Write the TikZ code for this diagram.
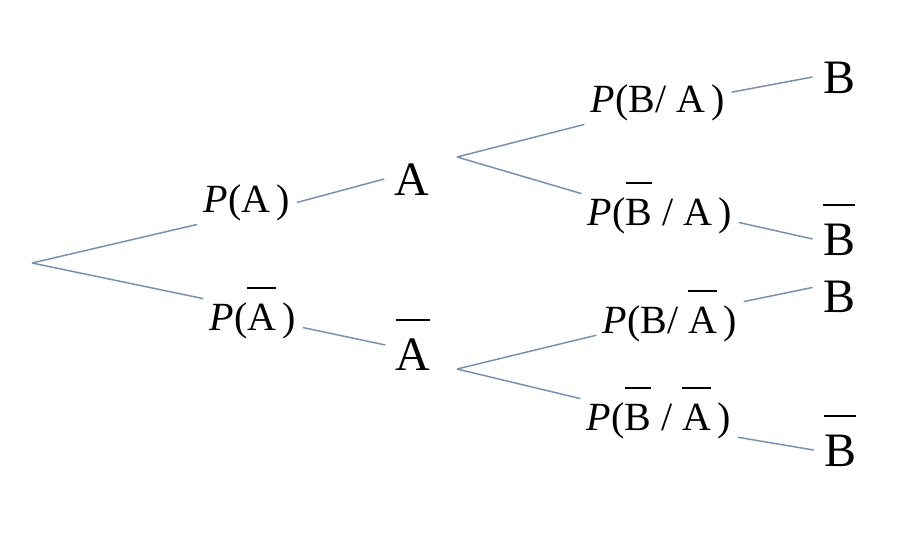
\documentclass[tikz,border=0pt]{standalone}
\usepackage{fontspec}
\setmainfont{Liberation Serif}
\usetikzlibrary{positioning}
\usepackage{xcolor}
\definecolor{branchcol}{RGB}{120,145,175}
\newcommand{\compl}[1]{\leavevmode\vbox{\hrule height 1.1pt\kern0.36em\hbox{#1}}}
\newcommand{\probtext}[1]{\textit{P}(#1\,)}
\tikzset{
  problabel/.style={font=\fontsize{20}{22}\selectfont,text height=14pt,text depth=4.5pt,inner xsep=3pt,inner ysep=1.5pt,anchor=base},
  event/.style={font=\fontsize{24}{28}\selectfont,text height=16pt,text depth=0pt,inner sep=5pt,anchor=base},
  branch/.style={draw=branchcol,line width=0.75pt}
}

\begin{document}
\begin{tikzpicture}[x=0.5pt,y=-0.5pt]
\useasboundingbox (0,0) rectangle (908,537);
%% tree of two events
\coordinate (root) at (32,263);
\coordinate (splitA) at (457,157);
\coordinate (splitAbar) at (457,369);
%the nodes
\node [problabel] (pA) at (247,212) {\probtext{A}};
\node [problabel] (pAbar) at (253,330) {\probtext{\compl{A}}};
\node [event] (A) at (412,195) {A};
\node [event] (Abar) at (413,370) {\compl{A}};
\node [problabel] (pBA) at (658,112) {\probtext{B/ A}};
\node [problabel] (pBbarA) at (660,225) {\probtext{\compl{B} / A}};
\node [problabel] (pBAbar) at (670,333) {\probtext{B/ \compl{A}}};
\node [problabel] (pBbarAbar) at (659,430) {\probtext{\compl{B} / \compl{A}}};
\node [event] (B1) at (839,93) {B};
\node [event] (Bbar1) at (839,255) {\compl{B}};
\node [event] (B2) at (839,312) {B};
\node [event] (Bbar2) at (840,466) {\compl{B}};
%drawings of lines
\draw[branch] (root) -- (pA.south west);
\draw[branch] (root) -- (pAbar.north west);
\draw[branch] (pA.east) -- (A.west);
\draw[branch] (pAbar.-8) -- (Abar.162);

\draw[branch] (splitA) -- (pBA.south west);
\draw[branch] (splitA) -- (pBbarA.north west);
\draw[branch] (pBA.8) -- (B1.west);
\draw[branch] (pBbarA.-5) -- (Bbar1.west);

\draw[branch] (splitAbar) -- (pBAbar.189);
\draw[branch] (splitAbar) -- (pBbarAbar.north west);
\draw[branch] (pBAbar.north east) -- (B2.162);
\draw[branch] (pBbarAbar.-12) -- (Bbar2.west);

\end{tikzpicture}
\end{document}
